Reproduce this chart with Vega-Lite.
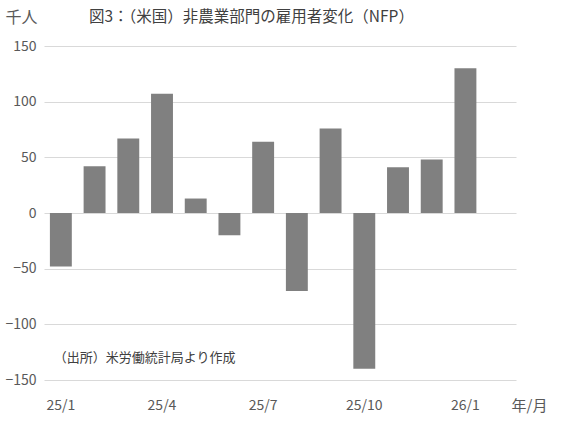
{
  "$schema": "https://vega.github.io/schema/vega-lite/v6.json",
  "width": 472,
  "height": 334,
  "autosize": "none",
  "padding": {"left": 44, "top": 46, "right": 55, "bottom": 41},
  "background": "white",
  "title": {
    "text": "図3：（米国）非農業部門の雇用者変化（NFP）",
    "anchor": "start",
    "frame": "group",
    "dx": 45,
    "offset": -16,
    "font": "Noto Sans CJK JP",
    "fontSize": 15.5,
    "fontWeight": "normal",
    "color": "#404040"
  },
  "data": {
    "values": [
      {"month": "25/1", "nfp": -48},
      {"month": "25/2", "nfp": 42},
      {"month": "25/3", "nfp": 67},
      {"month": "25/4", "nfp": 107},
      {"month": "25/5", "nfp": 13},
      {"month": "25/6", "nfp": -20},
      {"month": "25/7", "nfp": 64},
      {"month": "25/8", "nfp": -70},
      {"month": "25/9", "nfp": 76},
      {"month": "25/10", "nfp": -140},
      {"month": "25/11", "nfp": 41},
      {"month": "25/12", "nfp": 48},
      {"month": "26/1", "nfp": 130}
    ]
  },
  "encoding": {
    "x": {
      "field": "month",
      "type": "nominal",
      "sort": null,
      "scale": {
        "domain": ["25/1", "25/2", "25/3", "25/4", "25/5", "25/6", "25/7", "25/8", "25/9", "25/10", "25/11", "25/12", "26/1", "26/2"],
        "paddingInner": 0.35,
        "paddingOuter": 0.175
      },
      "axis": {
        "values": ["25/1", "25/4", "25/7", "25/10", "26/1"],
        "labelAngle": 0,
        "domain": false,
        "ticks": false,
        "labelPadding": 18,
        "labelFontSize": 14,
        "labelColor": "#595959",
        "labelFont": "Noto Sans CJK JP",
        "title": "年/月",
        "titleFont": "Noto Sans CJK JP",
        "titleFontSize": 15,
        "titleFontWeight": "normal",
        "titleColor": "#595959",
        "titleAlign": "left",
        "titleBaseline": "middle",
        "titleX": 467,
        "titleY": 25
      }
    },
    "y": {
      "field": "nfp",
      "type": "quantitative",
      "scale": {"domain": [-150, 150], "nice": false},
      "axis": {
        "values": [-150, -100, -50, 0, 50, 100, 150],
        "domain": false,
        "ticks": false,
        "labelPadding": 8,
        "labelFontSize": 14,
        "labelColor": "#595959",
        "labelFont": "Noto Sans CJK JP",
        "gridColor": "#d9d9d9",
        "gridWidth": 1,
        "title": "千人",
        "titleAngle": 0,
        "titleFont": "Noto Sans CJK JP",
        "titleFontSize": 16,
        "titleFontWeight": "normal",
        "titleColor": "#595959",
        "titleAlign": "left",
        "titleBaseline": "middle",
        "titleX": -39,
        "titleY": -29
      }
    }
  },
  "layer": [
    {
      "mark": {"type": "bar", "color": "#808080"}
    },
    {
      "transform": [{"filter": "datum.month === '25/1'"}],
      "mark": {
        "type": "text",
        "text": "（出所）米労働統計局より作成",
        "align": "left",
        "baseline": "middle",
        "dx": -7,
        "font": "Noto Sans CJK JP",
        "fontSize": 13,
        "color": "#404040"
      },
      "encoding": {
        "y": {"datum": -130}
      }
    }
  ],
  "config": {
    "view": {"stroke": null}
  }
}
